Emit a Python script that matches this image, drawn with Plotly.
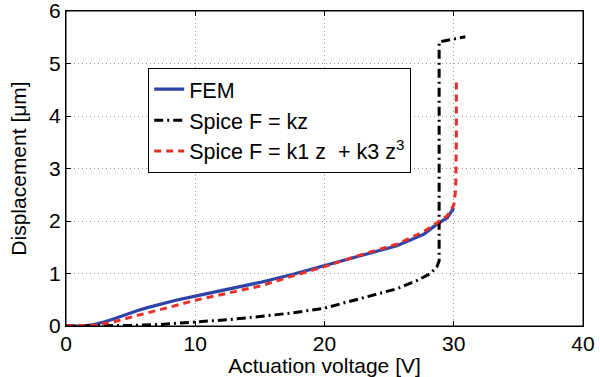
import plotly.graph_objects as go

# FEM (blue solid)
fem_x = [0, 1, 1.5, 2, 2.5, 3, 3.5, 4, 4.7, 5.5, 6.3, 7.3, 8.5, 10, 12.5, 15, 17.5, 20, 23, 25.6, 27.7, 28.7, 29.5, 29.85, 30.0]
fem_y = [0, 0, 0.005, 0.02, 0.045, 0.08, 0.12, 0.165, 0.23, 0.29, 0.35, 0.42, 0.49, 0.57, 0.70, 0.83, 0.98, 1.15, 1.36, 1.53, 1.75, 1.94, 2.06, 2.18, 2.25]

# Spice F = kz (black dash-dot)
kz_x = [0, 2, 5, 7.3, 10, 12.5, 15, 17.5, 20, 23, 25.6, 27.1, 28.2, 28.7, 28.87, 28.87, 30.0, 30.9]
kz_y = [0, 0, 0.01, 0.03, 0.07, 0.12, 0.18, 0.25, 0.34, 0.54, 0.71, 0.86, 1.0, 1.13, 1.24, 5.41, 5.46, 5.51]

# Spice F = k1 z + k3 z^3 (red dashed)
k3_x = [0, 1, 2, 2.5, 3, 3.5, 4, 4.7, 5.5, 6.3, 7.3, 8.5, 10, 12.5, 15, 17.5, 20, 23, 25.6, 27.7, 28.7, 29.5, 30.0, 30.15, 30.2, 30.2]
k3_y = [0, 0, 0.01, 0.025, 0.045, 0.07, 0.10, 0.14, 0.20, 0.25, 0.31, 0.39, 0.49, 0.63, 0.76, 0.95, 1.13, 1.37, 1.56, 1.80, 1.97, 2.10, 2.30, 2.60, 3.50, 4.70]

names = ["FEM", "Spice F = kz", "Spice F = k1 z\u00a0 + k3 z<sup>3</sup>"]
x_ticks = [0, 10, 20, 30, 40]
y_ticks = [0, 1, 2, 3, 4, 5, 6]

FONT = "Liberation Sans, Arial, sans-serif"
FS = 21

fig = go.Figure()
fig.add_trace(go.Scatter(x=fem_x, y=fem_y, mode="lines", name=names[0],
                         line=dict(color="#2f44a8", width=3.2)))
fig.add_trace(go.Scatter(x=kz_x, y=kz_y, mode="lines", name=names[1],
                         line=dict(color="black", width=3, dash="9px,4px,2px,4px")))
fig.add_trace(go.Scatter(x=k3_x, y=k3_y, mode="lines", name=names[2],
                         line=dict(color="#e8302a", width=3, dash="7px,5px")))

axis_common = dict(
    showline=True, linecolor="black", linewidth=1, mirror="ticks",
    ticks="inside", ticklen=5, tickcolor="black",
    showgrid=True, gridcolor="#999999", griddash="1px,3px", gridwidth=1,
    zeroline=False, automargin=False, ticklabeloverflow="allow",
    tickfont=dict(family=FONT, size=FS, color="black"),
)

fig.update_xaxes(range=[0, 40], tickvals=x_ticks, **axis_common, ticklabelstandoff=-1,
                 title=dict(text="Actuation voltage [V]", font=dict(family=FONT, size=FS, color="black"),
                            standoff=0))
fig.update_yaxes(range=[0, 6], tickvals=y_ticks, **axis_common,
                 title=dict(text="Displacement [μm]", font=dict(family=FONT, size=FS, color="black"),
                            standoff=16))

fig.add_shape(type="rect", xref="paper", yref="paper", x0=0, x1=1, y0=0, y1=1,
              line=dict(color="black", width=1), layer="above")

fig.update_layout(
    width=600, height=377,
    margin=dict(l=66, r=17, t=11, b=51),
    paper_bgcolor="white", plot_bgcolor="white",
    font=dict(family=FONT, color="black"),
    legend=dict(x=0.159, y=0.82, xanchor="left", yanchor="top",
                bgcolor="white", bordercolor="black", borderwidth=1,
                font=dict(family=FONT, size=21.5, color="black"),
                tracegroupgap=0),
)

fig.write_html("out.html", config={"displayModeBar": False},
               post_script="document.body.style.margin='0';document.body.style.overflow='hidden';")
